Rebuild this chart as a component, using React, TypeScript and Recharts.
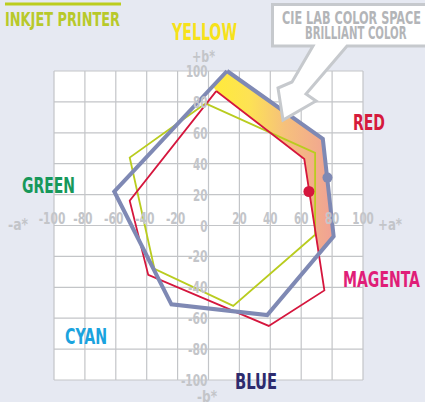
import { ScatterChart, Scatter, XAxis, YAxis, CartesianGrid } from 'recharts'

// gamut outlines, a* (x) and b* (y) per vertex, closed back to the first point
const BLUE_A = [12, 74, 81, 38, -24, -61, 12]
const BLUE_B = [100, 56, -7, -58, -51, 22, 100]
const RED_A = [5, 62, 75, 39, -39, -51, 5]
const RED_B = [87, 43, -42, -65, -32, 16, 87]
const GREEN_A = [-2, 69, 69, 16, -35, -51, -2]
const GREEN_B = [79, 47, -6, -52, -28, 44, 79]

// "brilliant color" band between the two gamuts
const BAND_A = [3, 12, 74, 81, 71, 65, 62, 5]
const BAND_B = [90, 100, 56, -7, -18, 22, 43, 87]

const RED_DOT = [{ a: 65, b: 22 }]
const BLUE_DOT = [{ a: 77, b: 31 }]

const TICKS = [-100, -80, -60, -40, -20, 0, 20, 40, 60, 80, 100]

const W = 425
const H = 402
const MARGIN = { top: 71, right: 62, bottom: 21, left: 53 }
const ZERO_X = 54 + 309 / 2
const ZERO_Y = 71 + 309 / 2

const FONT = "'Liberation Sans Narrow', 'DejaVu Sans Condensed', 'Roboto Condensed', 'DejaVu Sans', sans-serif"
const TICK_COLOR = '#c3c5c9'
const BG = '#e6e9f2'

const toPoints = (as: number[], bs: number[]) => as.map((a, i) => ({ a, b: bs[i] }))

function tickWidth(label: string) {
  let w = 0
  for (const ch of label) w += ch === '-' ? 5 : 7.2
  return w
}

function XTick(props: any) {
  const v = props.payload.value
  if (v === 0) return <g />
  const label = String(v)
  return (
    <text
      x={props.x + (v < 0 ? -2 : 0)}
      y={ZERO_Y - 2}
      textAnchor="middle"
      fill={TICK_COLOR}
      fontSize={16}
      fontWeight="bold"
      fontFamily={FONT}
      textLength={tickWidth(label)}
      lengthAdjust="spacingAndGlyphs"
    >
      {label}
    </text>
  )
}

function YTick(props: any) {
  const label = String(props.payload.value)
  return (
    <text
      x={ZERO_X - 1}
      y={props.y + 6}
      textAnchor="end"
      fill={TICK_COLOR}
      fontSize={16}
      fontWeight="bold"
      fontFamily={FONT}
      textLength={tickWidth(label)}
      lengthAdjust="spacingAndGlyphs"
    >
      {label}
    </text>
  )
}

const noPoint = () => <g />

function Label({ x, y, w, size, color, text }: { x: number; y: number; w: number; size: number; color: string; text: string }) {
  return (
    <text x={x} y={y} fontSize={size} fontWeight="bold" fontFamily={FONT} fill={color} textLength={w} lengthAdjust="spacingAndGlyphs">
      {text}
    </text>
  )
}

export default function App() {
  return (
    <div style={{ position: 'absolute', left: 0, top: 0, width: W, height: H, background: BG, overflow: 'hidden' }}>
      <svg width={0} height={0} style={{ position: 'absolute' }}>
        <defs>
          <linearGradient id="bandFill" x1="0" y1="0" x2="1" y2="0">
            <stop offset="0%" stopColor="#ffeb3a" />
            <stop offset="30%" stopColor="#fde254" />
            <stop offset="60%" stopColor="#f6c07c" />
            <stop offset="100%" stopColor="#f0a195" />
          </linearGradient>
        </defs>
      </svg>
      <ScatterChart width={W} height={H} margin={MARGIN}>
        <CartesianGrid stroke="#c3c5c8" strokeWidth={1.2} fill="#ffffff" fillOpacity={1} />
        <XAxis
          type="number"
          dataKey="a"
          domain={[-100, 100]}
          ticks={TICKS}
          interval={0}
          height={1}
          axisLine={false}
          tickLine={false}
          tick={XTick}
        />
        <YAxis
          type="number"
          dataKey="b"
          domain={[-100, 100]}
          ticks={TICKS}
          interval={0}
          width={1}
          axisLine={false}
          tickLine={false}
          tick={YTick}
        />
        <Scatter
          data={toPoints(BAND_A, BAND_B)}
          shape={noPoint}
          line={{ fill: 'url(#bandFill)', stroke: 'none' }}
          isAnimationActive={false}
        />
        <Scatter
          data={toPoints(GREEN_A, GREEN_B)}
          shape={noPoint}
          line={{ stroke: '#b9cc1f', strokeWidth: 1.8 }}
          isAnimationActive={false}
        />
        <Scatter
          data={toPoints(RED_A, RED_B)}
          shape={noPoint}
          line={{ stroke: '#d5163d', strokeWidth: 1.8 }}
          isAnimationActive={false}
        />
        <Scatter
          data={toPoints(BLUE_A, BLUE_B)}
          shape={noPoint}
          line={{ stroke: '#7f89b4', strokeWidth: 4 }}
          isAnimationActive={false}
        />
        <Scatter
          data={RED_DOT}
          shape={(p: any) => <circle cx={p.cx} cy={p.cy} r={5.5} fill="#d5163d" />}
          isAnimationActive={false}
        />
        <Scatter
          data={BLUE_DOT}
          shape={(p: any) => <circle cx={p.cx} cy={p.cy} r={5} fill="#7f89b4" />}
          isAnimationActive={false}
        />
      </ScatterChart>
      <svg width={W} height={H} style={{ position: 'absolute', left: 0, top: 0, pointerEvents: 'none' }}>
        <rect x={5} y={2.5} width={116} height={3} fill="#bccd1e" />
        <Label x={5} y={26} w={115} size={19} color="#b8c92a" text="INKJET PRINTER" />
        <Label x={172} y={40} w={65} size={23} color="#f7e21a" text="YELLOW" />
        <Label x={353} y={129.5} w={32} size={22} color="#d51a3c" text="RED" />
        <Label x={22} y={193} w={53} size={22} color="#17985a" text="GREEN" />
        <Label x={343} y={287} w={77} size={22} color="#e01e78" text="MAGENTA" />
        <Label x={65} y={343.5} w={42} size={22} color="#1ba3de" text="CYAN" />
        <Label x={235} y={388.5} w={42} size={22} color="#2d2b6e" text="BLUE" />
        <Label x={192} y={61.5} w={23} size={16} color={TICK_COLOR} text="+b*" />
        <Label x={197} y={402} w={20} size={16} color={TICK_COLOR} text="-b*" />
        <Label x={8} y={230} w={20} size={16} color={TICK_COLOR} text="-a*" />
        <Label x={378} y={230} w={24} size={16} color={TICK_COLOR} text="+a*" />
        <path
          d="M 272.5 46 L 272.5 4.5 L 432 4.5 L 432 46 L 347 46 L 306 94 L 316 101 L 283 120 L 278 88 L 292 82 L 313 46 Z"
          fill="#ffffff"
          stroke="#c6c9cd"
          strokeWidth={3}
          strokeLinejoin="miter"
        />
        <Label x={282} y={24} w={139} size={17} color="#b3b5b8" text="CIE LAB COLOR SPACE" />
        <Label x={305} y={39.3} w={101.5} size={17} color="#b3b5b8" text="BRILLIANT COLOR" />
      </svg>
    </div>
  )
}
